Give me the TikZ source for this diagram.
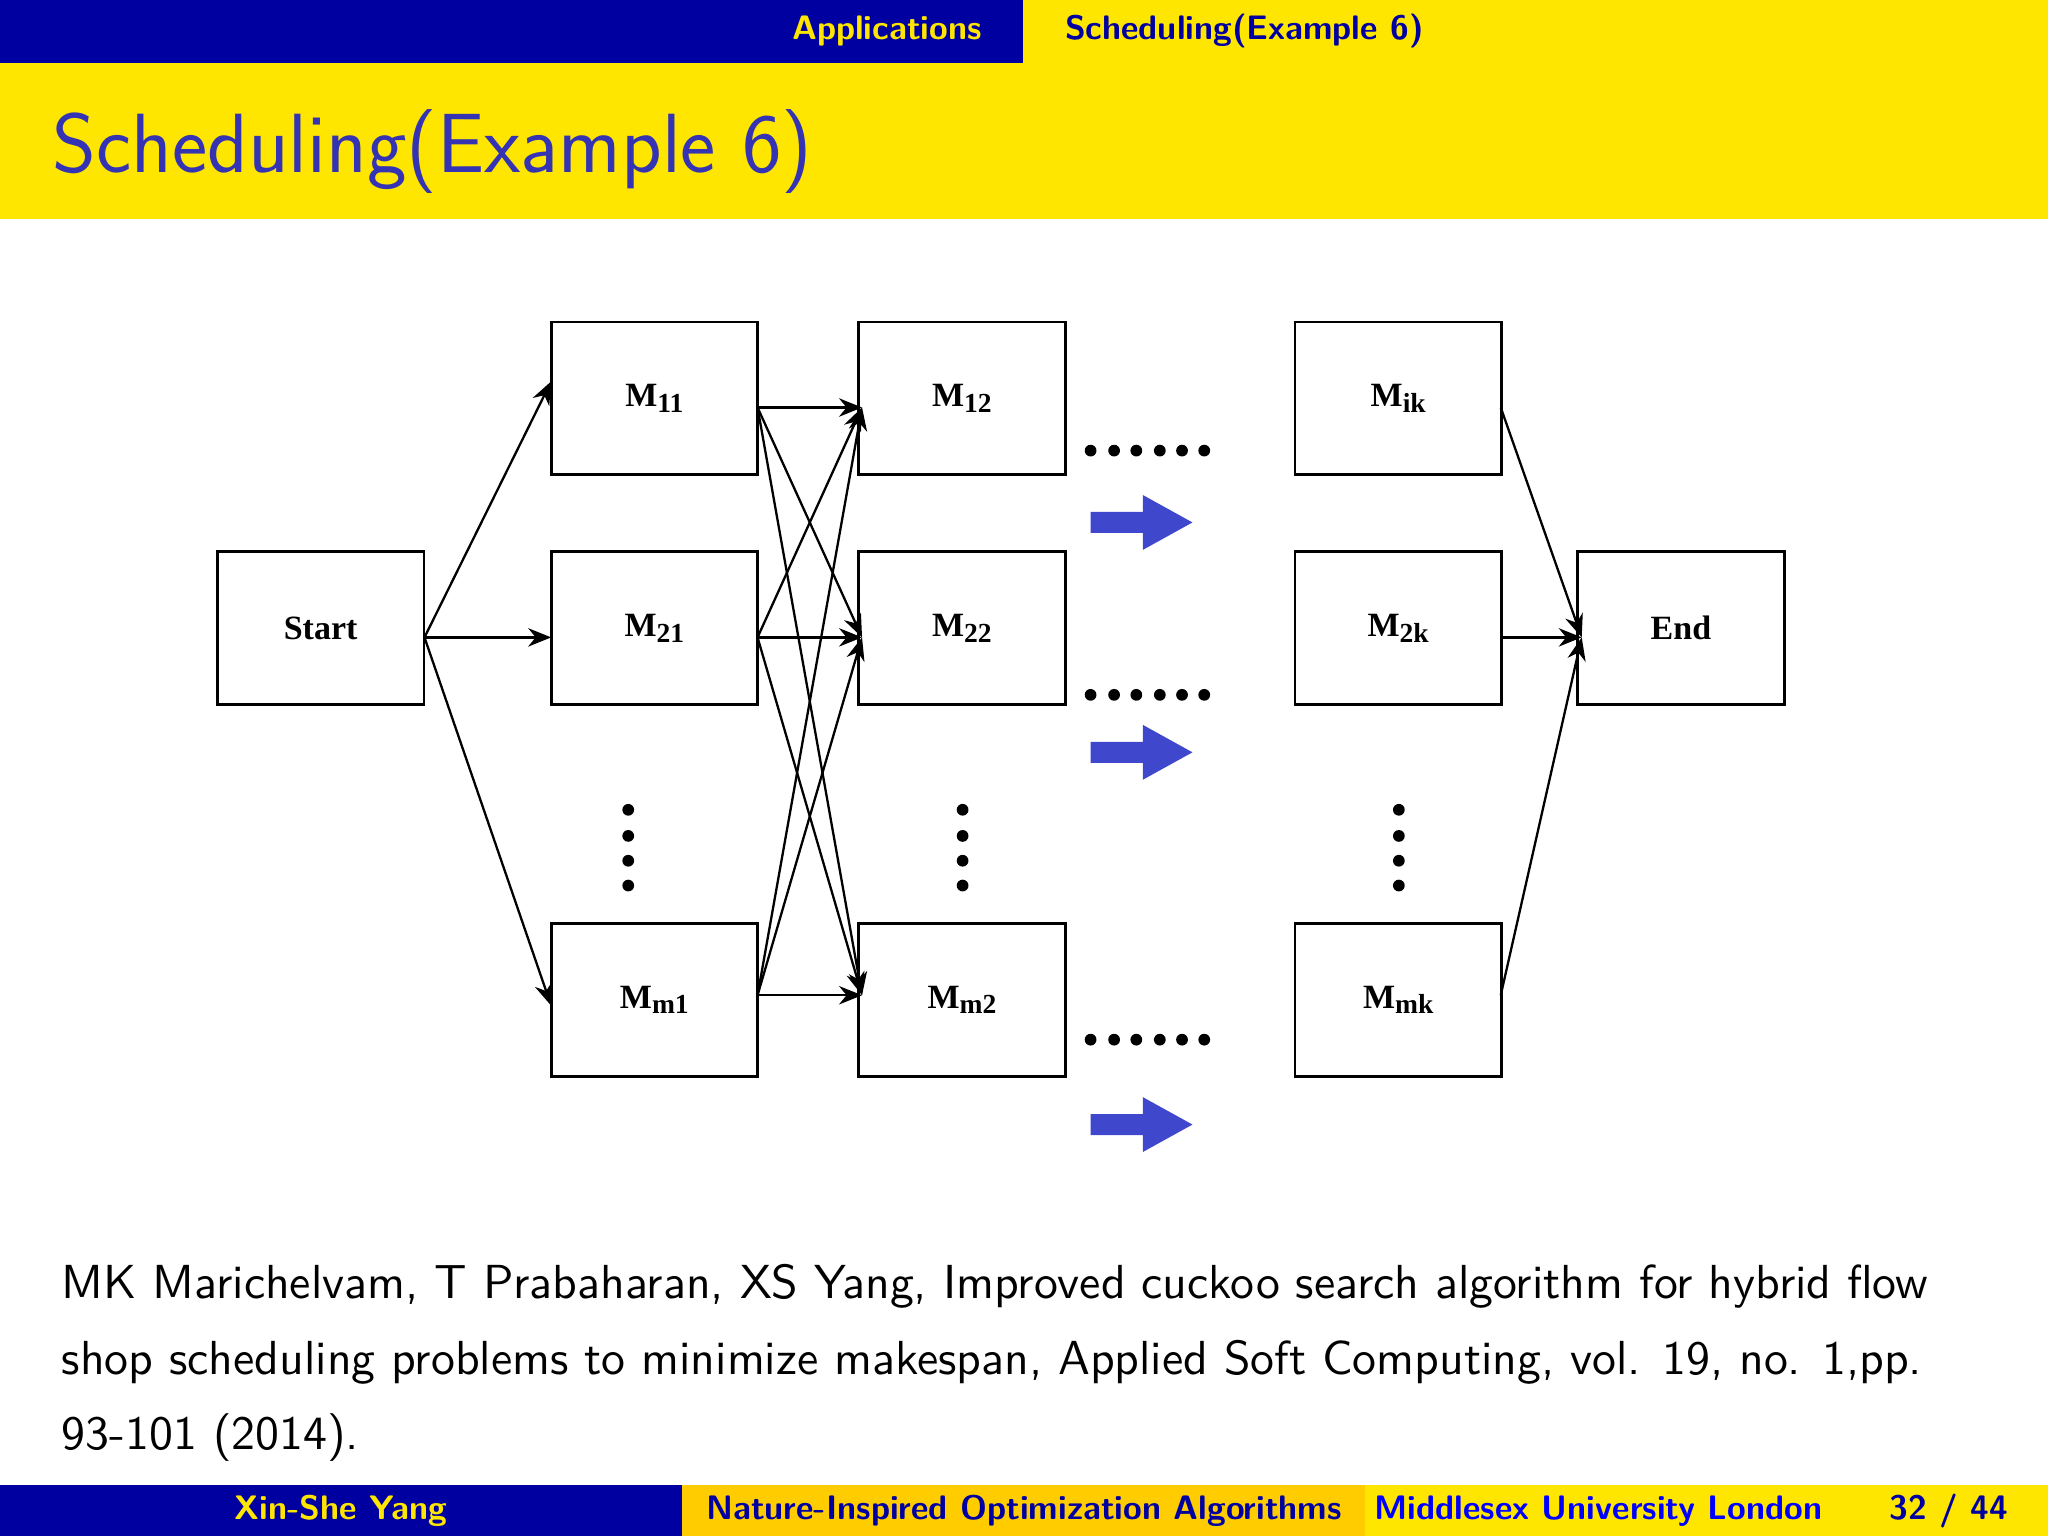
\documentclass[tikz,border=0pt]{standalone}
\usepackage{fontspec}
\newfontfamily\tms{Liberation Serif}
\usetikzlibrary{arrows.meta}
\definecolor{bbl}{HTML}{0000A0}
\definecolor{byl}{HTML}{FFE600}
\definecolor{byo}{HTML}{FFCC00}
\definecolor{ttl}{HTML}{3333B3}
\definecolor{arrb}{HTML}{3F48CC}
\begin{document}
\begin{tikzpicture}[x=0.01cm,y=-0.01cm,
  mbox/.style={draw,line width=0.6pt,minimum width=1.58cm,minimum height=1.17cm,inner sep=0,font=\tms\bfseries\fontsize{7.4}{9}\selectfont},
  mtxt/.style={inner sep=0,font=\tms\bfseries\fontsize{7.4}{9}\selectfont},
  con/.style={line width=0.5pt,-{Stealth[length=5pt,width=4pt]}},
  dot/.style={circle,fill=black,inner sep=0,minimum size=0.09cm},
  hdr/.style={font=\sffamily\bfseries\fontsize{7.4}{9}\selectfont}]
\useasboundingbox (0,0) rectangle (1568,1176);
% header
\fill[bbl] (0,0) rectangle (783,48);
\fill[byl] (783,0) rectangle (1568,48);
\node[hdr,anchor=east,text=byl] (hA) at (764,24) {Applications};
\node[hdr,anchor=west,text=bbl] (hB) at (803,24) {Scheduling(Example 6)};
\fill[byl] (0,48) rectangle (1568,168);
\node[anchor=west,text=ttl,font=\sffamily\fontsize{18.3}{22}\selectfont] (title) at (28,116) {Scheduling(Example 6)};
% boxes
\newcommand\Mx[2]{M\raisebox{-0.35ex}{\fontsize{6}{7}\selectfont #1#2}}
\node[mbox,label={[mtxt]center:{\raisebox{-0.4ex}{Start}}}] (st) at (245.5,481) {};
\node[mbox,label={[mtxt]center:{\raisebox{-0.8ex}{\Mx{1}{1}}}}] (a1) at (501,305) {};
\node[mbox,label={[mtxt]center:{\raisebox{-0.8ex}{\Mx{2}{1}}}}] (a2) at (501,481) {};
\node[mbox,label={[mtxt]center:{\raisebox{-0.8ex}{\Mx{m}{1}}}}] (a3) at (501,765.5) {};
\node[mbox,label={[mtxt]center:{\raisebox{-0.8ex}{\Mx{1}{2}}}}] (b1) at (736.5,305) {};
\node[mbox,label={[mtxt]center:{\raisebox{-0.8ex}{\Mx{2}{2}}}}] (b2) at (736.5,481) {};
\node[mbox,label={[mtxt]center:{\raisebox{-0.8ex}{\Mx{m}{2}}}}] (b3) at (736.5,765.5) {};
\node[mbox,label={[mtxt]center:{\raisebox{-0.8ex}{\Mx{i}{k}}}}] (c1) at (1070.5,305) {};
\node[mbox,label={[mtxt]center:{\raisebox{-0.8ex}{\Mx{2}{k}}}}] (c2) at (1070.5,481) {};
\node[mbox,label={[mtxt]center:{\raisebox{-0.8ex}{\Mx{m}{k}}}}] (c3) at (1070.5,765.5) {};
\node[mbox,label={[mtxt]center:{\raisebox{-0.4ex}{End}}}] (en) at (1287,481) {};
% anchors
\coordinate (sto) at (325,488);
\coordinate (a1i) at (422,292); \coordinate (a2i) at (422,488); \coordinate (a3i) at (422,770);
\coordinate (a1o) at (580,312); \coordinate (a2o) at (580,488); \coordinate (a3o) at (580,762);
\coordinate (b1i) at (660,312); \coordinate (b2i) at (660,488); \coordinate (b3i) at (660,762);
\coordinate (c1o) at (1149,312); \coordinate (c2o) at (1149,488); \coordinate (c3o) at (1149,762);
\coordinate (eni) at (1211,488);
\foreach \t in {a1i,a2i,a3i} \draw[con] (sto) -- (\t);
\foreach \s in {a1o,a2o,a3o} \foreach \t in {b1i,b2i,b3i} \draw[con] (\s) -- (\t);
\foreach \s in {c1o,c2o,c3o} \draw[con] (\s) -- (eni);
% vertical dots
\foreach \x/\n in {481/p,737/q,1071/r} \foreach \y [count=\i] in {620,640,659,678} \node[dot] (v\n\i) at (\x,\y) {};
% horizontal dots
\foreach \y/\n in {345/p,532/q,796/r} \foreach \x [count=\i] in {835,853,870,888,905,922} \node[dot] (h\n\i) at (\x,\y) {};
% blue arrows
\foreach \y in {400,576,861}
  \fill[arrb] (835,\y-8) -- (875,\y-8) -- (875,\y-21) -- (913,\y) -- (875,\y+21) -- (875,\y+8) -- (835,\y+8) -- cycle;
% citation
\node[anchor=west,font=\sffamily\fontsize{10.4}{13}\selectfont] (l1) at (35,985) {MK Marichelvam, T Prabaharan, XS Yang, Improved cuckoo search algorithm for hybrid flow};
\node[anchor=west,font=\sffamily\fontsize{10.4}{13}\selectfont] (l2) at (35,1043) {shop scheduling problems to minimize makespan, Applied Soft Computing, vol. 19, no. 1,pp.};
\node[anchor=west,font=\sffamily\fontsize{10.4}{13}\selectfont] (l3) at (35,1101) {93-101 (2014).};
% footer
\fill[bbl] (0,1137) rectangle (522,1176);
\fill[byo] (522,1137) rectangle (1045,1176);
\fill[byl] (1045,1137) rectangle (1568,1176);
\node[hdr,text=byl] (f1) at (261,1157) {Xin-She Yang};
\node[hdr,text=bbl] (f2) at (784,1157) {Nature-Inspired Optimization Algorithms};
\node[hdr,anchor=west,text=blue] (f3) at (1040,1157) {Middlesex University London};
\node[hdr,anchor=east,text=bbl] (f4) at (1550,1157) {32 / 44};
\end{tikzpicture}
\end{document}
